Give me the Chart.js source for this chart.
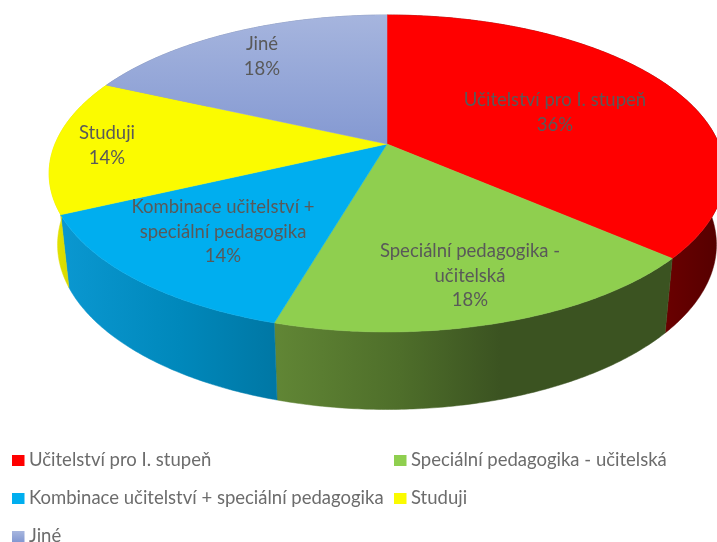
<!DOCTYPE html>
<html><head><meta charset="utf-8">
<style>html,body{margin:0;padding:0;background:#fff}canvas{display:block}#w{width:717px;height:542px;position:relative}</style>
<script src="https://cdn.jsdelivr.net/npm/chart.js@4"></script>
</head><body><div id="w"><canvas id="c" width="717" height="542"></canvas></div>
<script>
const categories = ['Učitelství pro I. stupeň','Speciální pedagogika - učitelská','Kombinace učitelství + speciální pedagogika','Studuji','Jiné'];
const values = [36.4, 18.1, 13.5, 13.8, 18.2];
const sliceColors = ['#ff0000','#8fcf4f','#00aeef','#fbfb00','#94a6d6'];
const labelLines = [['Učitelství pro I. stupeň'],['Speciální pedagogika -','učitelská'],['Kombinace učitelství +','speciální pedagogika'],['Studuji'],['Jiné']];

// layout / style constants
const STRETCH_X = 332/144, TILT_A = 153/144, PERSP = 0.186;
const WALL = {sx:0.975, sy:1.04, dy:70};
const wallStops = [
 [[665,'#6a0000'],[717,'#560000']],
 [[275,'#618635'],[400,'#4e6e2a'],[500,'#3b5321'],[670,'#3b5321']],
 [[65,'#0a97d0'],[180,'#0088bb'],[277,'#0077a4']],
 [[50,'#e6e600'],[70,'#d8d800']],
 [[50,'#6f7ea0'],[390,'#6f7ea0']]
];
const labelPos = [[555,100],[470,251],[223,207],[107,133],[262,44]];
const LINE_H = 24.6;
const TEXT = '#595959';
const LEGEND_TEXT = '#6c6c6c';
const FONT = '18.5px Lato, "Open Sans", sans-serif';
const legendPos = [[12,460.5],[394,460.5],[12,498.5],[394,498.5],[12,536.5]];

function project(el, a, r, wall){
  const t = a + Math.PI/2, R = el.outerRadius;
  const x = Math.sin(t)*r, d = -Math.cos(t)*r;
  const s = 1/(1-PERSP*d);
  let X = R*STRETCH_X*x*s, Y = R*TILT_A*d*s;
  if(wall){X*=WALL.sx;Y=Y*WALL.sy+WALL.dy;}
  return [el.x+X, el.y+Y];
}
function rim(el,a0,a1,wall){
  const n=Math.max(2,Math.ceil((a1-a0)/0.01)),p=[];
  for(let i=0;i<=n;i++)p.push(project(el,a0+(a1-a0)*i/n,1,wall));
  return p;
}
function topFill(ctx,i){
  if(i===4){const g=ctx.createLinearGradient(0,15,0,144);g.addColorStop(0,'#a6b5de');g.addColorStop(1,'#8499d2');return g;}
  return sliceColors[i];
}
const pie3d = {
  id:'pie3d',
  beforeDatasetsDraw(chart){
    const ctx=chart.ctx, arcs=chart.getDatasetMeta(0).data;
    ctx.save();
    // side walls
    arcs.forEach((el,i)=>{
      const a0=el.startAngle,a1=el.endAngle;
      const top=rim(el,a0,a1,false),bot=rim(el,a0,a1,true).reverse();
      const st=wallStops[i],x0=st[0][0],x1=st[st.length-1][0];
      const g=ctx.createLinearGradient(x0,0,x1,0);
      st.forEach(s=>g.addColorStop((s[0]-x0)/(x1-x0),s[1]));
      ctx.beginPath();
      top.concat(bot).forEach((p,k)=>k?ctx.lineTo(p[0],p[1]):ctx.moveTo(p[0],p[1]));
      ctx.closePath();ctx.fillStyle=g;ctx.strokeStyle=g;ctx.lineWidth=.5;ctx.fill();ctx.stroke();
    });
    // top faces
    arcs.forEach((el,i)=>{
      const f=topFill(ctx,i);
      ctx.beginPath();ctx.moveTo(el.x,el.y);
      rim(el,el.startAngle,el.endAngle,false).forEach(p=>ctx.lineTo(p[0],p[1]));
      ctx.closePath();ctx.fillStyle=f;ctx.strokeStyle=f;ctx.lineWidth=.5;ctx.fill();ctx.stroke();
    });
    // data labels
    ctx.font=FONT;ctx.fillStyle=TEXT;ctx.textAlign='center';ctx.textBaseline='middle';
    const total=values.reduce((a,b)=>a+b,0);
    arcs.forEach((el,i)=>{
      const lines=labelLines[i].concat(Math.round(values[i]/total*100)+'%');
      lines.forEach((l,k)=>ctx.fillText(l,labelPos[i][0],labelPos[i][1]+k*LINE_H));
    });
    // legend
    ctx.textAlign='left';
    categories.forEach((c,i)=>{
      const [x,y]=legendPos[i];
      if(i===4){const g=ctx.createLinearGradient(0,y-5,0,y+5);g.addColorStop(0,'#a6b5de');g.addColorStop(1,'#8499d2');ctx.fillStyle=g;}
      else ctx.fillStyle=sliceColors[i];
      ctx.fillRect(x,y-5.5,12.5,11);
      ctx.fillStyle=LEGEND_TEXT;
      ctx.fillText(c,x+17,y-0.5);
    });
    ctx.restore();
    return false;
  }
};
new Chart(document.getElementById('c'),{
  type:'pie',
  data:{labels:categories,datasets:[{data:values,backgroundColor:sliceColors,borderWidth:0}]},
  options:{responsive:false,animation:false,
    layout:{padding:{left:57,right:0,top:0,bottom:254}},
    plugins:{legend:{display:false},tooltip:{enabled:false}}},
  plugins:[pie3d]
});
</script></body></html>
